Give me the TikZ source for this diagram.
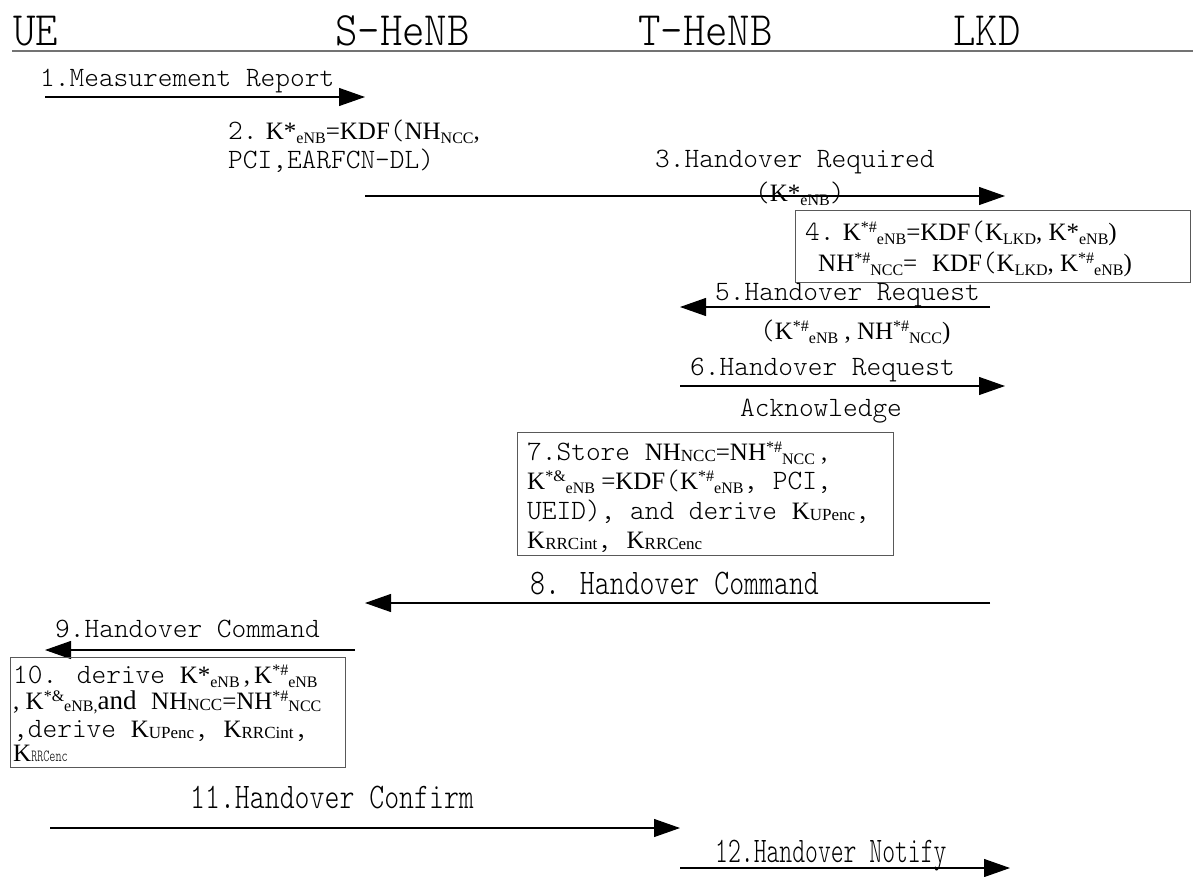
\documentclass[tikz,border=0pt]{standalone}
\usepackage{fontspec}
\usetikzlibrary{arrows.meta}
\newfontfamily\monof{lmmonolt10-regular.otf}
\newfontfamily\hdrf[FakeStretch=0.89]{lmmonolt10-regular.otf}
\newfontfamily\condf[FakeStretch=0.79]{lmmonolt10-regular.otf}
\newfontfamily\condnf[FakeStretch=0.68]{lmmonolt10-regular.otf}
\newfontfamily\tmsf{Liberation Serif}
\newcommand\mainsz{\monof\fontsize{28}{30}\selectfont}
\newcommand\T[1]{{\tmsf\fontsize{25}{30}\selectfont #1}}
\newcommand\lo[1]{\raisebox{-4pt}{\tmsf\fontsize{16}{16}\selectfont #1}}
\newcommand\los[1]{\raisebox{-2pt}{\tmsf\fontsize{16}{16}\selectfont #1}}
\newcommand\hi[1]{\raisebox{8pt}{\tmsf\fontsize{16}{16}\selectfont #1}}
\newcommand\md[1]{\raisebox{-1pt}{\tmsf\fontsize{17}{17}\selectfont #1}}
\tikzset{
  lbl/.style={anchor=base west, inner sep=0pt, font=\mainsz},
  hdr/.style={anchor=base west, inner sep=0pt, font=\hdrf\fontsize{48}{48}\selectfont},
  cnd/.style={anchor=base west, inner sep=0pt, font=\condf\fontsize{36}{36}\selectfont},
  cndn/.style={anchor=base west, inner sep=0pt, font=\condnf\fontsize{36}{36}\selectfont},
  msg/.style={draw=black, line width=1.1pt, -{Triangle[length=26pt,width=18pt]}},
  hline/.style={draw=black!55, line width=2pt},
  boxst/.style={draw=black!65, line width=1.1pt, inner sep=0pt, anchor=north west}
}
\begin{document}
\begin{tikzpicture}[x=1pt,y=-1pt]
\useasboundingbox (0,0) rectangle (1193,876);
% header
\node[hdr] (ue) at (13,45) {UE};
\node[hdr] (shenb) at (335,45) {S-HeNB};
\node[hdr] (thenb) at (638,45) {T-HeNB};
\node[hdr] (lkd) at (953,45) {LKD};
\coordinate (hl) at (12,51); \coordinate (hr) at (1193,51);
\draw[hline] (hl) -- (hr);
% message end points
\coordinate (m1a) at (45,97);   \coordinate (m1b) at (365,97);
\coordinate (m3a) at (365,196); \coordinate (m3b) at (1005,196);
\coordinate (m5a) at (990,307); \coordinate (m5b) at (680,307);
\coordinate (m6a) at (680,386); \coordinate (m6b) at (1005,386);
\coordinate (m8a) at (990,603); \coordinate (m8b) at (365,603);
\coordinate (m9a) at (355,650); \coordinate (m9b) at (45,650);
\coordinate (m11a) at (50,828); \coordinate (m11b) at (680,828);
\coordinate (m12a) at (680,868); \coordinate (m12b) at (1010,868);
% step 1
\node[lbl] (t1) at (40,86) {1.Measurement Report};
\draw[msg] (m1a) -- (m1b);
% step 2
\node[lbl] (t2a) at (228,139) {2.\T{ K*}\lo{eNB}\T{=KDF}(\T{NH}\lo{NCC}\T{,}};
\node[lbl] (t2b) at (228,168) {PCI,EARFCN-DL)};
% step 3
\node[lbl] (t3) at (655,167) {3.Handover Required};
\draw[msg] (m3a) -- (m3b);
\node[lbl] (t3b) at (755,201) {(\T{K*}\lo{eNB})};
% step 4
\node[boxst, minimum width=395pt, minimum height=72pt] (b4) at (795,210) {};
\node[lbl] (t4a) at (805,240) {4.\T{ K}\hi{*\#}\lo{eNB}\T{=KDF}(\T{K}\lo{LKD}\T{, K*}\lo{eNB}\T{)}};
\node[lbl] (t4b) at (818,271) {\T{NH}\hi{*\#}\lo{NCC}\T{=}\ \T{KDF}(\T{K}\lo{LKD}\T{, K}\hi{*\#}\lo{eNB}\T{)}};
% step 5
\node[lbl] (t5) at (715,300) {5.Handover Request};
\draw[msg] (m5a) -- (m5b);
\node[lbl] (t5b) at (760,339) {(\T{K}\hi{*\#}\lo{eNB}\T{ , NH}\hi{*\#}\lo{NCC}\T{)}};
% step 6
\node[lbl] (t6) at (690,375) {6.Handover Request};
\draw[msg] (m6a) -- (m6b);
\node[lbl] (t6b) at (740,416) {Acknowledge};
% step 7
\node[boxst, minimum width=376pt, minimum height=123pt] (b7) at (517,432) {};
\node[lbl] (t7a) at (527,460) {7.Store \T{NH}\md{NCC}\T{=NH}\hi{*\#}\lo{NCC}\T{ ,}};
\node[lbl] (t7b) at (527,489) {\T{K}\hi{*\&}\lo{eNB}\T{ =KDF}(\T{K}\hi{*\#}\lo{eNB}, PCI,};
\node[lbl] (t7c) at (527,519) {UEID), and derive \T{K}\md{UPenc},};
\node[lbl] (t7d) at (527,548) {\T{K}\md{RRCint}, \T{K}\md{RRCenc}};
% step 8
\node[cnd] (t8) at (530,594) {8. Handover Command};
\draw[msg] (m8a) -- (m8b);
% step 9
\node[lbl] (t9) at (55,637) {9.Handover Command};
\draw[msg] (m9a) -- (m9b);
% step 10
\node[boxst, minimum width=335pt, minimum height=110pt] (b10) at (10,657) {};
\node[lbl] (t10a) at (13,683) {10. derive \T{K*}\lo{eNB}\T{\,,\,K}\hi{*\#}\lo{eNB}};
\node[lbl] (t10b) at (13,709) {\T{, K}\hi{*\&}\los{eNB,}\T{\fontsize{27}{30}\selectfont and} \T{NH}\md{NCC}\T{=NH}\hi{*\#}\los{NCC}};
\node[lbl] (t10c) at (13,737) {,derive \T{K}\md{UPenc}, \T{K}\md{RRCint},};
\node[lbl] (t10d) at (13,761) {\T{K}{\condnf\fontsize{17}{17}\selectfont RRCenc}};
% step 11
\node[cnd] (t11) at (190,808) {11.Handover Confirm};
\draw[msg] (m11a) -- (m11b);
% step 12
\node[cndn] (t12) at (715,862) {12.Handover Notify};
\draw[msg] (m12a) -- (m12b);
\end{tikzpicture}
\end{document}
